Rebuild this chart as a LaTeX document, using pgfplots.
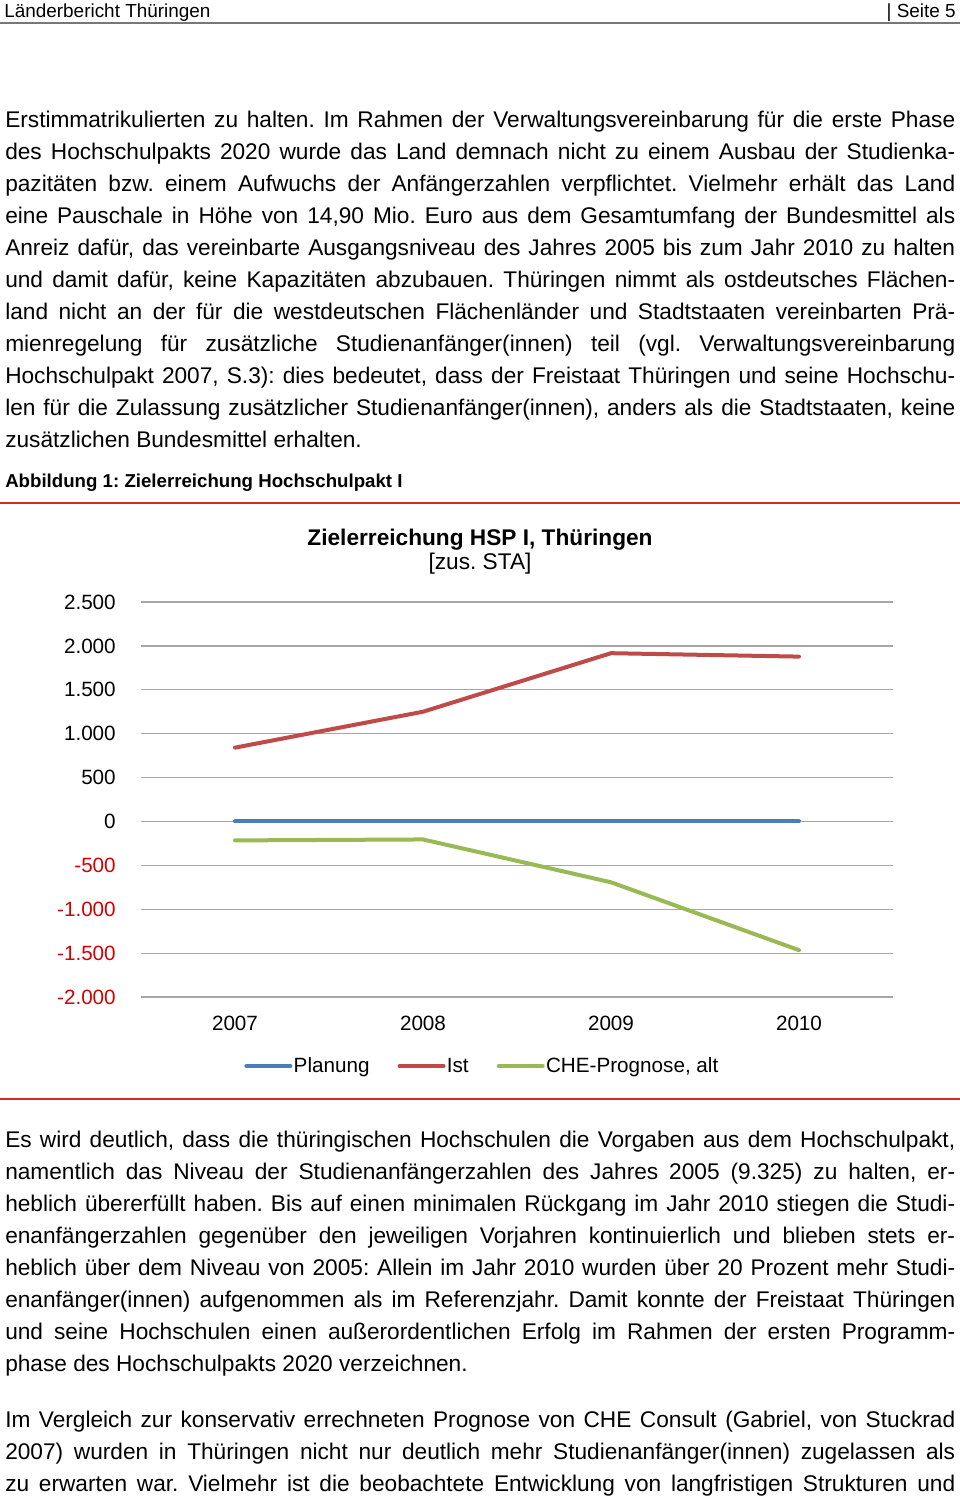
\documentclass[border=0pt]{standalone}
\usepackage{pgfplots}
\pgfplotsset{compat=1.18}
\usepackage{fontspec}
\setmainfont{Liberation Sans}
\frenchspacing
\definecolor{cblue}{HTML}{4A7EBB}
\definecolor{cred}{HTML}{BE4B48}
\definecolor{cgreen}{HTML}{98B954}
\definecolor{rulered}{HTML}{D42A2A}
\definecolor{negred}{HTML}{D40000}
\definecolor{gridgray}{HTML}{A6A6A6}
\definecolor{headgray}{HTML}{777777}
\newcommand{\jl}[2]{\node[anchor=base west, inner sep=0pt] at (5,#1) {\frenchspacing\makebox[712.5pt][s]{#2}};}
\newcommand{\lastline}[2]{\node[anchor=base west, inner sep=0pt] at (5,#1) {\frenchspacing #2};}
\begin{document}
\begin{tikzpicture}
\begin{scope}[x=0.75pt, y=-0.75pt]
\path[use as bounding box] (0,0) rectangle (960,1499);
% header
\node[anchor=base west, inner sep=0pt] at (4,17) {\fontsize{14.2}{16}\selectfont Länderbericht Thüringen};
\node[anchor=base east, inner sep=0pt] at (956,17) {\fontsize{14.2}{16}\selectfont | Seite 5};
\draw[headgray, line width=1.5pt] (0,23) -- (960,23);
% paragraph 1
\begin{scope}[font=\fontsize{17pt}{20pt}\selectfont]
\jl{127}{Erstimmatrikulierten zu halten. Im Rahmen der Verwaltungsvereinbarung für die erste Phase}
\jl{159}{des Hochschulpakts 2020 wurde das Land demnach nicht zu einem Ausbau der Studienka-}
\jl{191}{pazitäten bzw. einem Aufwuchs der Anfängerzahlen verpflichtet. Vielmehr erhält das Land}
\jl{223}{eine Pauschale in Höhe von 14,90 Mio. Euro aus dem Gesamtumfang der Bundesmittel als}
\jl{255}{Anreiz dafür, das vereinbarte Ausgangsniveau des Jahres 2005 bis zum Jahr 2010 zu halten}
\jl{287}{und damit dafür, keine Kapazitäten abzubauen. Thüringen nimmt als ostdeutsches Flächen-}
\jl{319}{land nicht an der für die westdeutschen Flächenländer und Stadtstaaten vereinbarten Prä-}
\jl{351}{mienregelung für zusätzliche Studienanfänger(innen) teil (vgl. Verwaltungsvereinbarung}
\jl{383}{Hochschulpakt 2007, S.3): dies bedeutet, dass der Freistaat Thüringen und seine Hochschu-}
\jl{415}{len für die Zulassung zusätzlicher Studienanfänger(innen), anders als die Stadtstaaten, keine}
\lastline{447}{zusätzlichen Bundesmittel erhalten.}
% paragraph 2
\jl{1147}{Es wird deutlich, dass die thüringischen Hochschulen die Vorgaben aus dem Hochschulpakt,}
\jl{1179}{namentlich das Niveau der Studienanfängerzahlen des Jahres 2005 (9.325) zu halten, er-}
\jl{1211}{heblich übererfüllt haben. Bis auf einen minimalen Rückgang im Jahr 2010 stiegen die Studi-}
\jl{1243}{enanfängerzahlen gegenüber den jeweiligen Vorjahren kontinuierlich und blieben stets er-}
\jl{1275}{heblich über dem Niveau von 2005: Allein im Jahr 2010 wurden über 20 Prozent mehr Studi-}
\jl{1307}{enanfänger(innen) aufgenommen als im Referenzjahr. Damit konnte der Freistaat Thüringen}
\jl{1339}{und seine Hochschulen einen außerordentlichen Erfolg im Rahmen der ersten Programm-}
\lastline{1371}{phase des Hochschulpakts 2020 verzeichnen.}
% paragraph 3
\jl{1427}{Im Vergleich zur konservativ errechneten Prognose von CHE Consult (Gabriel, von Stuckrad}
\jl{1459}{2007) wurden in Thüringen nicht nur deutlich mehr Studienanfänger(innen) zugelassen als}
\jl{1491}{zu erwarten war. Vielmehr ist die beobachtete Entwicklung von langfristigen Strukturen und}
\end{scope}
% caption and frame
\node[anchor=base west, inner sep=0pt] at (5,487) {\fontsize{14}{16}\selectfont\bfseries Abbildung 1: Zielerreichung Hochschulpakt I};
\draw[rulered, line width=1.8pt] (0,503) -- (960,503);
\draw[rulered, line width=1.8pt] (0,1099) -- (960,1099);
\node[anchor=base, inner sep=0pt] at (480,545) {\fontsize{17}{20}\selectfont\bfseries Zielerreichung HSP I, Thüringen};
\node[anchor=base, inner sep=0pt] at (480,569) {\fontsize{17}{20}\selectfont [zus. STA]};
\end{scope}
\begin{axis}[
  at={(105.75pt,-747.75pt)}, anchor=south west,
  scale only axis, width=564pt, height=296.25pt,
  xmin=-0.5, xmax=3.5, ymin=-2000, ymax=2500,
  xtick={0,1,2,3}, xticklabels={2007,2008,2009,2010},
  ytick={-2000,-1500,-1000,-500,0,500,1000,1500,2000,2500},
  yticklabels={\textcolor{negred}{-2.000},\textcolor{negred}{-1.500},\textcolor{negred}{-1.000},\textcolor{negred}{-500},0,500,1.000,1.500,2.000,2.500},
  axis line style={draw=none},
  major tick length=0pt,
  ymajorgrids, grid style={gridgray, line width=0.9pt},
  ticklabel style={font=\fontsize{15.5}{18}\selectfont},
  yticklabel style={anchor=east, inner sep=0pt, xshift=-18.75pt},
  xticklabel style={anchor=base, inner sep=0pt, yshift=-24.75pt},
  legend style={at={(0.4535,-0.1747)}, anchor=center, draw=none, fill=none,
    legend columns=3, font=\fontsize{15.5}{18}\selectfont,
    nodes={inner sep=1pt},
    /tikz/every even column/.append style={column sep=20pt}},
  legend image code/.code={\draw[#1, line cap=round] (0pt,0pt) -- (33pt,0pt);},
]
\addplot[cblue, line width=3pt, line cap=round] coordinates {(0,0) (1,0) (2,0) (3,0)};
\addlegendentry{Planung}
\addplot[cred, line width=3pt, line cap=round, line join=round] coordinates {(0,841) (1,1250) (2,1917) (3,1878)};
\addlegendentry{Ist}
\addplot[cgreen, line width=3pt, line cap=round, line join=round] coordinates {(0,-216) (1,-205) (2,-693) (3,-1466)};
\addlegendentry{CHE-Prognose, alt}
\end{axis}
\end{tikzpicture}
\end{document}
